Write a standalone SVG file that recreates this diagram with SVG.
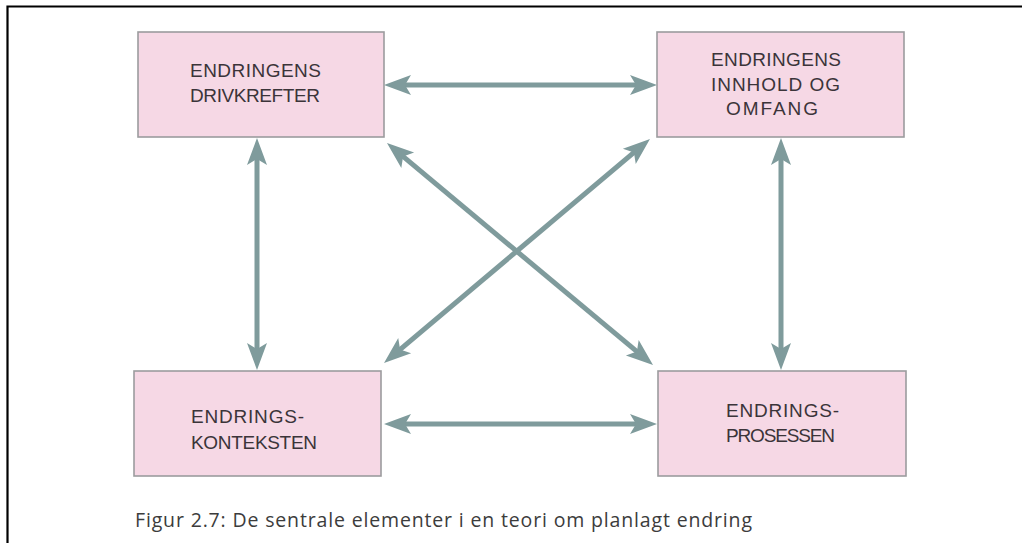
<svg xmlns="http://www.w3.org/2000/svg" width="1022" height="543" viewBox="0 0 1022 543">
  <style>
    .box { fill: #f6d8e5; stroke: #9c9c9e; stroke-width: 1.6; }
    .lbl { font-family: "Liberation Sans", Arial, sans-serif; font-size: 19px; fill: #3b3439; }
    .cap { font-family: "Open Sans", "Liberation Sans", sans-serif; font-size: 19.5px; fill: #3c3c3c; }
    .link { fill: none; stroke: #7f9b9c; stroke-width: 5; marker-start: url(#head); marker-end: url(#head); }
  </style>
  <defs>
    <!-- notched arrowhead; tip sits 15px beyond the line end -->
    <marker id="head" markerUnits="userSpaceOnUse" viewBox="-14 -11 30 22" markerWidth="30" markerHeight="22" refX="0" refY="0" orient="auto-start-reverse">
      <path d="M15,0 L-12,-10 L-6,0 L-12,10 Z" fill="#7f9b9c"/>
    </marker>
  </defs>

  <rect width="1022" height="543" fill="#ffffff"/>
  <!-- frame -->
  <path d="M7.5,543 L7.5,6.5 L1022,6.5" fill="none" stroke="#000" stroke-width="2.2"/>

  <g id="connectors">
    <line class="link" x1="399" y1="85" x2="642" y2="85"/>
    <line class="link" x1="399" y1="424" x2="642" y2="424"/>
    <line class="link" x1="257" y1="153" x2="257" y2="355"/>
    <line class="link" x1="781" y1="153" x2="781" y2="355"/>
    <line class="link" x1="398.5" y1="152.6" x2="641.5" y2="355.4"/>
    <line class="link" x1="638.5" y1="148.7" x2="395.5" y2="353.3"/>
  </g>

  <g id="drivkrefter">
    <rect class="box" x="138" y="32" width="246" height="105"/>
    <text class="lbl" x="190" y="77" textLength="131" lengthAdjust="spacing">ENDRINGENS</text>
    <text class="lbl" x="190" y="102" textLength="130" lengthAdjust="spacing">DRIVKREFTER</text>
  </g>

  <g id="innhold">
    <rect class="box" x="657" y="32" width="247" height="105"/>
    <text class="lbl" x="711" y="66" textLength="130" lengthAdjust="spacing">ENDRINGENS</text>
    <text class="lbl" x="711" y="91" textLength="129" lengthAdjust="spacing">INNHOLD OG</text>
    <text class="lbl" x="726" y="115" textLength="92" lengthAdjust="spacing">OMFANG</text>
  </g>

  <g id="konteksten">
    <rect class="box" x="134" y="371" width="247" height="105"/>
    <text class="lbl" x="191" y="423" textLength="113" lengthAdjust="spacing">ENDRINGS-</text>
    <text class="lbl" x="191" y="449" textLength="126" lengthAdjust="spacing">KONTEKSTEN</text>
  </g>

  <g id="prosessen">
    <rect class="box" x="658" y="371" width="248" height="105"/>
    <text class="lbl" x="726" y="417" textLength="113" lengthAdjust="spacing">ENDRINGS-</text>
    <text class="lbl" x="726" y="442" textLength="109" lengthAdjust="spacing">PROSESSEN</text>
  </g>

  <text class="cap" x="135" y="527" textLength="617" lengthAdjust="spacing">Figur 2.7: De sentrale elementer i en teori om planlagt endring</text>
</svg>
